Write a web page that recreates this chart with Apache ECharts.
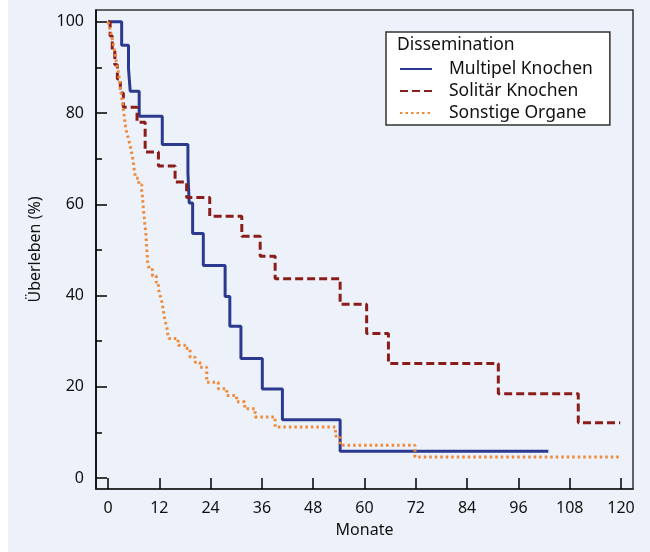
<!DOCTYPE html>
<html>
<head>
<meta charset="utf-8">
<script src="https://cdn.jsdelivr.net/npm/echarts@6/dist/echarts.min.js"></script>
<style>
html,body{margin:0;padding:0;background:#ffffff;}
#c{width:650px;height:552px;}
</style>
</head>
<body>
<div id="c"></div>
<script>
// Kaplan-Meier step data: [month, survival %] (drop times and survival after drop)
const multipelKnochen = [
  [0,100],[3.2,94.9],[4.8,89.8],[5.2,84.8],[7.3,79.3],[12.7,73.1],[18.7,66.9],[19.0,60.3],
  [19.8,53.6],[22.3,46.6],[27.4,39.8],[28.5,33.3],[31.1,26.2],[36.1,19.5],[40.8,12.8],
  [54.3,5.9],[103,5.9]
];
const solitaerKnochen = [
  [0,100],[0.5,96.9],[1.0,93.8],[1.6,90.6],[2.2,87.5],[2.9,84.4],[3.6,81.3],[6.8,78.0],
  [8.7,71.5],[11.8,68.4],[15.7,64.9],[18.4,61.5],[23.8,57.4],[31.3,53.0],[35.6,48.6],
  [39.1,43.7],[54.3,38.1],[60.5,31.7],[65.6,25.1],[91.3,18.5],[110,12.1],[119.8,12.1]
];
const sonstigeOrgane = [
  [0,100],[0.4,98.6],[0.8,97.1],[1.1,95.7],[1.4,94.3],[1.7,92.9],[1.9,91.4],[2.2,90.0],
  [2.5,88.6],[2.7,87.1],[2.9,85.7],[3.1,84.3],[3.3,82.9],[3.5,81.4],[3.7,80.0],[3.9,78.6],
  [4.1,77.1],[4.4,75.7],[4.8,74.3],[5.2,72.9],[5.5,71.4],[5.8,70.0],[6.0,68.6],[6.2,67.1],
  [6.5,65.7],[7.2,64.3],[7.9,62.9],[8.1,61.4],[8.2,60.0],[8.3,58.6],[8.5,57.1],[8.6,55.7],
  [8.8,54.3],[8.9,52.9],[9.0,51.4],[9.1,50.0],[9.2,48.6],[9.3,47.1],[9.7,45.7],[10.4,44.3],
  [11.3,42.9],[11.8,41.4],[12.2,40.0],[12.6,38.6],[12.9,37.1],[13.1,35.7],[13.4,34.3],
  [13.8,32.9],[14.0,31.4],[14.2,30.6],[16.4,29.1],[18.0,28.4],[19.2,26.5],[20.4,25.4],
  [21.5,24.3],[23.1,21.0],[25.8,19.6],[27.8,18.1],[30.1,16.7],[32.0,15.2],[34.4,13.4],
  [39.1,11.2],[53.2,9.2],[54.3,7.2],[71.8,4.6],[119.8,4.6]
];
const seriesNames = ['Multipel Knochen','Solitär Knochen','Sonstige Organe'];
const legendTitle = 'Dissemination';
const xTicks = [0,12,24,36,48,60,72,84,96,108,120];
const yTicks = [0,20,40,60,80,100];
const yMinorTicks = [10,30,50,70,90];
const xName = 'Monate';
const yName = 'Überleben (%)';

const FONT = 'Noto Sans';
const chart = echarts.init(document.getElementById('c'), null, {renderer:'canvas'});
chart.setOption({
  animation:false,
  backgroundColor:'transparent',
  textStyle:{fontFamily:FONT},
  graphic:[{type:'rect', z:-10, silent:true, shape:{x:8,y:0,width:642,height:552}, style:{fill:'#edf2fa'}}],
  title:{text:legendTitle, left:397, top:36, padding:0, z:10,
    textStyle:{fontFamily:FONT, fontSize:17.5, fontWeight:'normal', color:'#111'}},
  legend:{
    orient:'vertical', left:386, top:32,
    backgroundColor:'#ffffff', borderColor:'#333', borderWidth:1.5,
    padding:[28,17,3,13], itemWidth:32, itemHeight:14, itemGap:4,
    data:seriesNames,
    itemStyle:{opacity:0},
    textStyle:{fontFamily:FONT, fontSize:17.5, lineHeight:16, color:'#111', padding:[0,0,0,12]}
  },
  grid:{left:96, right:17, top:10, bottom:63, show:true, borderColor:'#333', borderWidth:1.5, backgroundColor:'transparent'},
  xAxis:{
    type:'value', min:-2.8, max:122.8,
    name:xName, nameLocation:'middle', nameGap:33,
    nameTextStyle:{fontFamily:FONT, fontSize:16, color:'#111'},
    axisLine:{show:true, onZero:false, lineStyle:{color:'#222', width:1.5}},
    axisTick:{show:true, inside:true, length:11, customValues:xTicks, lineStyle:{color:'#000', width:1.5}},
    axisLabel:{show:true, customValues:xTicks, margin:11, fontFamily:FONT, fontSize:16, color:'#111'},
    splitLine:{show:false}
  },
  yAxis:[{
    type:'value', min:-2.4, max:102.6,
    name:yName, nameLocation:'middle', nameGap:53,
    nameTextStyle:{fontFamily:FONT, fontSize:16, color:'#111'},
    axisLine:{show:true, onZero:false, lineStyle:{color:'#000', width:1.5}},
    axisTick:{show:true, inside:true, length:11, customValues:yTicks, lineStyle:{color:'#000', width:1.5}},
    axisLabel:{show:true, customValues:yTicks, margin:12, fontFamily:FONT, fontSize:16, color:'#111'},
    splitLine:{show:false}
  },{
    type:'value', min:-2.4, max:102.6, position:'left', offset:0,
    axisLine:{show:false, onZero:false},
    axisTick:{show:true, inside:true, length:6, customValues:yMinorTicks, lineStyle:{color:'#000', width:1.5}},
    axisLabel:{show:false},
    splitLine:{show:false}
  }],
  series:[
    {name:seriesNames[0], type:'line', step:'end', symbol:'none', data:multipelKnochen,
     color:'#2b3a8e', lineStyle:{color:'#2b3a8e', width:3, type:'solid'}},
    {name:seriesNames[1], type:'line', step:'end', symbol:'none', data:solitaerKnochen,
     color:'#8a1d1a', lineStyle:{color:'#8a1d1a', width:3, type:[8,4]}},
    {name:seriesNames[2], type:'line', step:'end', symbol:'none', data:sonstigeOrgane,
     color:'#f0893a', lineStyle:{color:'#f0893a', width:3, type:[2.5,3]}}
  ]
});
</script>
</body>
</html>
